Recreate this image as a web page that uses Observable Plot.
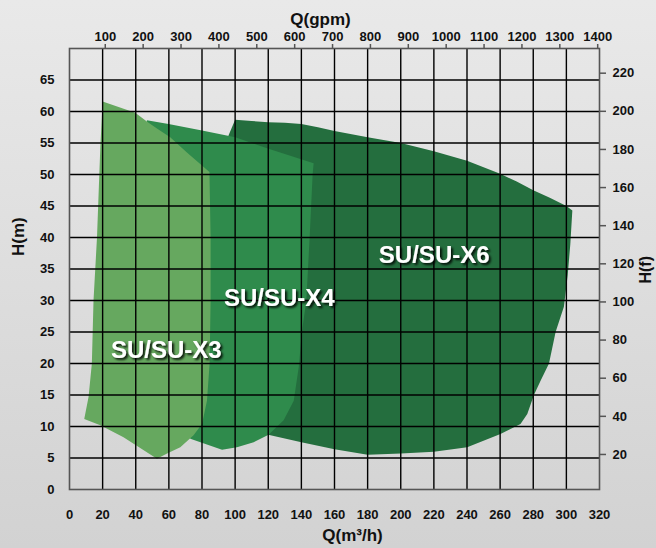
<!DOCTYPE html>
<html>
<head>
<meta charset="utf-8">
<script src="https://cdn.jsdelivr.net/npm/d3@7"></script>
<script src="https://cdn.jsdelivr.net/npm/@observablehq/plot@0.6"></script>
<style>
  html, body { margin: 0; padding: 0; }
  body { width: 656px; height: 548px; background: linear-gradient(#e9e9e9, #d2d2d2); font-family: "Liberation Sans", Arial, sans-serif; }
  #chart svg { display: block; }
</style>
</head>
<body>
<div id="chart"></div>
<script>
// ---- axis ticks ----
const qTicks = d3.range(0, 321, 20);          // Q (m3/h)
const hTicks = d3.range(0, 66, 5);            // H (m)
const gpmTicks = [100, 200, 300, 400, 500, 600, 700, 800, 900, 1000, 1100, 1200, 1300, 1400];
const ftTicks = [20, 40, 60, 80, 100, 120, 140, 160, 180, 200, 220];

// ---- performance ranges (Q m3/h, H m) ----
const x3Q = [20, 39.7, 46.7, 52.8, 60.8, 70.9, 84.5, 85.2, 85.2, 84.6, 83.0, 80.0, 74.9, 66.9, 58.9, 52.8, 32.6, 18.6, 8.9, 11.5, 13.5, 14.5, 16.6, 18.6];
const x3H = [61.6, 59.8, 58.4, 57.3, 55.9, 53.5, 50.4, 40, 30, 20, 14.1, 10.4, 8.6, 6.7, 5.7, 4.9, 8.3, 10.2, 11.2, 14.7, 20, 30, 40, 54.3];

const x4Q = [46.7, 59.8, 80, 100.1, 120.2, 147.4, 146.8, 145, 143, 140.4, 138.4, 135.4, 129.3, 120.2, 111.2, 101.1, 92.1, 73.4, 60, 50];
const x4H = [58.6, 58.0, 57.0, 55.9, 54.1, 51.8, 50, 40, 30, 25.2, 19.4, 14.1, 11.0, 8.7, 7.5, 6.7, 6.3, 8.0, 10, 30];

const x6Q = [96, 100, 110, 120, 130, 140, 150, 160, 180, 200, 220, 240, 260, 270, 280, 290, 300, 303.6, 302.4, 300.8, 298.5, 293.5, 289.5, 284.5, 280.4, 276.4, 272.3, 260.2, 240.1, 220, 200, 180, 160, 140, 120, 105, 98];
const x6H = [56.2, 58.7, 58.5, 58.3, 58.2, 58.0, 57.5, 56.9, 55.9, 55.0, 53.7, 52.2, 50.1, 48.9, 47.5, 46.3, 45.0, 44.3, 39, 34, 29, 25, 20, 17.3, 15, 12, 10.4, 8.8, 6.7, 6.0, 5.7, 5.5, 6.4, 7.5, 8.7, 9.5, 30];

const seriesNames = ["SU/SU-X3", "SU/SU-X4", "SU/SU-X6"];
const seriesColors = ["#66a85f", "#2f8b4c", "#246e3e"];
const labelQ = [58.4, 126.7, 220.2];
const labelH = [22.1, 30.3, 37.1];

// conversions for the secondary axes
const gpmToQ = g => 21.6 + (g - 100) * 0.2287;
const ftToH = f => 0.3026 * f - 0.49;

const poly = (qs, hs) => qs.map((q, i) => ({q, h: hs[i]}));
const x3 = poly(x3Q, x3H), x4 = poly(x4Q, x4H), x6 = poly(x6Q, x6H);
const labels = seriesNames.map((name, i) => ({name, q: labelQ[i], h: labelH[i]}));

const font = {fontFamily: "'Liberation Sans', Arial, sans-serif", fontWeight: "bold"};

const chart = Plot.plot({
  width: 656,
  height: 548,
  marginLeft: 69,
  marginRight: 57,
  marginTop: 48,
  marginBottom: 59,
  style: {background: "transparent", fontFamily: "'Liberation Sans', Arial, sans-serif", color: "#111"},
  x: {domain: [0, 320]},
  y: {domain: [0, 70]},
  marks: [
    Plot.line(x6, {x: "q", y: "h", curve: "linear-closed", fill: seriesColors[2], stroke: "none"}),
    Plot.line(x4, {x: "q", y: "h", curve: "linear-closed", fill: seriesColors[1], stroke: "none"}),
    Plot.line(x3, {x: "q", y: "h", curve: "linear-closed", fill: seriesColors[0], stroke: "none"}),
    Plot.gridX(qTicks.filter(q => q > 0 && q < 320), {stroke: "#000", strokeOpacity: 1, strokeWidth: 1.4}),
    Plot.gridY(hTicks.filter(h => h > 0), {stroke: "#000", strokeOpacity: 1, strokeWidth: 1.4}),
    Plot.frame({stroke: "#555", strokeWidth: 1.6}),
    // bottom axis
    Plot.axisX(qTicks, {anchor: "bottom", tickSize: 0, tickPadding: 20, fontSize: 13, ...font, fill: "#111", label: null}),
    // left axis
    Plot.axisY(hTicks, {anchor: "left", tickSize: 0, tickPadding: 15, fontSize: 13, ...font, fill: "#111", label: null}),
    // top axis (gpm)
    Plot.axisX(gpmTicks.map(gpmToQ), {anchor: "top", tickSize: 5, tickPadding: 3, stroke: "#555", strokeWidth: 1.5, fill: "#111", fontSize: 13, ...font, tickFormat: (d, i) => String(gpmTicks[i]), label: null}),
    // right axis (ft)
    Plot.axisY(ftTicks.map(ftToH), {anchor: "right", tickSize: 6, tickPadding: 7, stroke: "#555", strokeWidth: 1.5, fill: "#111", fontSize: 13, ...font, tickFormat: (d, i) => String(ftTicks[i]), label: null}),
    // axis titles
    Plot.text(["Q(gpm)"], {frameAnchor: "top", dx: -14, dy: -36, fontSize: 17, ...font, fill: "#111"}),
    Plot.text(["Q(m³/h)"], {frameAnchor: "bottom", dx: 18, dy: 51, fontSize: 17, ...font, fill: "#111"}),
    Plot.text(["H(m)"], {frameAnchor: "left", dx: -51, dy: -13, rotate: -90, fontSize: 17, ...font, fill: "#111"}),
    Plot.text(["H(f)"], {frameAnchor: "right", dx: 46, dy: -13, rotate: -90, fontSize: 16, ...font, fill: "#111"}),
    // series labels
    Plot.text(labels, {x: "q", y: "h", text: "name", fill: "#ffffff", fontSize: 24, ...font})
  ]
});

// drop shadow under the series labels (white text groups)
const ns = "http://www.w3.org/2000/svg";
const defs = document.createElementNS(ns, "defs");
const filter = document.createElementNS(ns, "filter");
filter.setAttribute("id", "label-shadow");
filter.setAttribute("x", "-20%"); filter.setAttribute("y", "-50%");
filter.setAttribute("width", "140%"); filter.setAttribute("height", "200%");
const shadow = document.createElementNS(ns, "feDropShadow");
shadow.setAttribute("dx", "2"); shadow.setAttribute("dy", "2");
shadow.setAttribute("stdDeviation", "1");
shadow.setAttribute("flood-color", "#000"); shadow.setAttribute("flood-opacity", "0.85");
filter.append(shadow); defs.append(filter); chart.prepend(defs);
chart.querySelectorAll("g").forEach(g => {
  const f = (g.getAttribute("fill") || "").toLowerCase();
  if (f === "#ffffff" || f === "#fff" || f === "white") g.setAttribute("filter", "url(#label-shadow)");
});
chart.querySelectorAll("text").forEach(t => {
  const f = (t.getAttribute("fill") || "").toLowerCase();
  if (f === "#ffffff") t.setAttribute("filter", "url(#label-shadow)");
});

document.getElementById("chart").append(chart);
</script>
</body>
</html>
